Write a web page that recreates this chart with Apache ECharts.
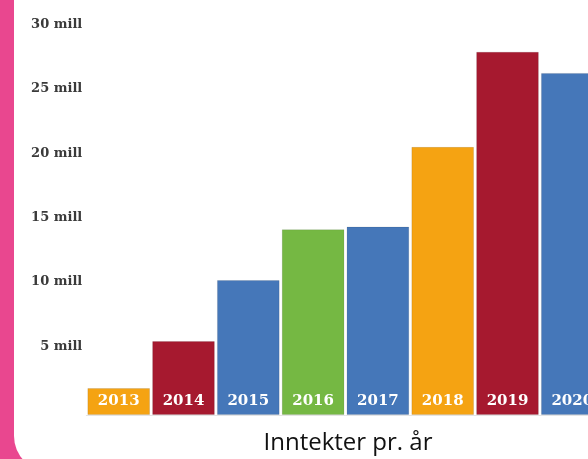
<!DOCTYPE html>
<html>
<head>
<meta charset="utf-8">
<script src="https://cdn.jsdelivr.net/npm/echarts@6/dist/echarts.min.js"></script>
<style>
  html, body { margin:0; padding:0; width:588px; height:459px; overflow:hidden; background:#e9478f; }
  #panel { position:absolute; left:14px; top:-60px; width:640px; height:532px; background:#ffffff; border-radius:36px; }
  #chart { position:absolute; left:0; top:0; width:640px; height:459px; }
</style>
</head>
<body>
<div id="panel"></div>
<div id="chart"></div>
<script>
// Data (millions)
const years = ['2013', '2014', '2015', '2016', '2017', '2018', '2019', '2020'];
const revenue = [2.1, 5.75, 10.5, 14.45, 14.65, 20.85, 28.25, 26.6];
const yTicks = [0, 5, 10, 15, 20, 25, 30];
const titleText = 'Inntekter pr. år';

// Styling
const barColors = ['#f5a312', '#a6192f', '#4577b9', '#75b843', '#4577b9', '#f5a312', '#a6192f', '#4577b9'];

const chart = echarts.init(document.getElementById('chart'), null, { renderer: 'canvas' });
chart.setOption({
  animation: false,
  backgroundColor: 'transparent',
  title: {
    text: titleText,
    left: 343,
    top: 426,
    textAlign: 'center',
    textStyle: { fontFamily: 'Open Sans', fontWeight: 'normal', fontSize: 24, color: '#111111' }
  },
  grid: { left: 86.3, right: 35.3, top: 29.2, bottom: 44, containLabel: false },
  xAxis: {
    type: 'category',
    data: years,
    axisLine: { show: true, lineStyle: { color: '#e4e4e4', width: 1 } },
    axisTick: { show: false },
    axisLabel: { show: false },
    splitLine: { show: false }
  },
  yAxis: {
    type: 'value',
    min: yTicks[0],
    max: yTicks[yTicks.length - 1],
    interval: 5,
    axisLine: { show: false },
    axisTick: { show: false },
    splitLine: { show: false },
    axisLabel: {
      margin: 4,
      verticalAlign: 'bottom',
      lineHeight: 9,
      color: '#3a3a3a',
      fontFamily: 'DejaVu Serif',
      fontWeight: 'bold',
      fontSize: 13,
      formatter: function (v) { return v === 0 ? '' : v + ' mill'; }
    }
  },
  series: [{
    type: 'bar',
    barCategoryGap: '3.2%',
    data: revenue.map(function (v, i) {
      return { value: v, itemStyle: { color: barColors[i] } };
    }),
    itemStyle: { borderColor: 'rgba(0,0,0,0.10)', borderWidth: 1 },
    label: {
      show: true,
      position: 'insideBottom',
      distance: 6,
      formatter: '{b}',
      color: '#ffffff',
      fontFamily: 'DejaVu Serif',
      fontWeight: 'bold',
      fontSize: 15
    }
  }]
});
</script>
</body>
</html>
